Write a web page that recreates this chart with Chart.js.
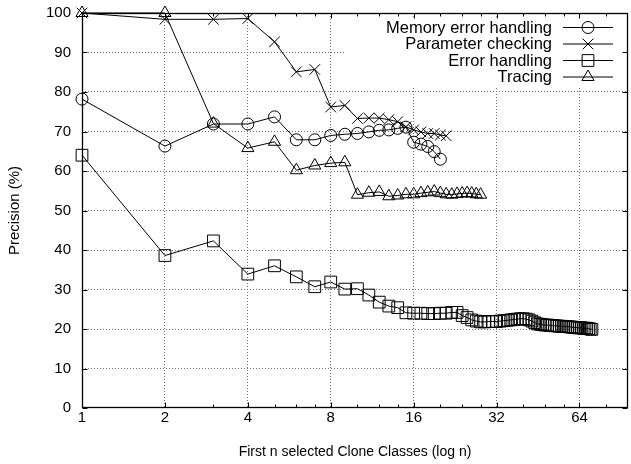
<!DOCTYPE html>
<html>
<head>
<meta charset="utf-8">
<script src="https://cdn.jsdelivr.net/npm/chart.js@4/dist/chart.umd.min.js"></script>
<style>
  html, body { margin: 0; padding: 0; background: #fff; }
</style>
</head>
<body>
<canvas id="myChart" width="631" height="464"></canvas>
<script>
// values, x = n (1, 2, 3 ...)
var memoryError = [78.2, 66.3, 71.9, 71.9, 73.7, 67.9, 67.9, 69, 69.3, 69.5,
  69.9, 70.3, 70.4, 70.8, 71.1, 67.3, 66.8, 66.2, 64.9, 63];
var parameterChecking = [100, 98.4, 98.4, 98.6, 92.7, 85.1, 85.7, 76.2, 76.6, 73.3,
  73.4, 73.4, 73, 72.5, 71.2, 70.4, 69.9, 69.5, 69.5, 69.1, 68.9];
var errorHandling = [64, 38.6, 42.3, 33.9, 36, 33.2, 30.7, 31.9, 30.1, 30.2,
  28.6, 26.8, 25.8, 25.4, 24.1, 24, 24, 23.9, 23.9, 24,
  24, 24.2, 24.2, 23.4, 22.9, 22.3, 22, 21.8, 21.8, 21.9,
  21.9, 21.9, 22, 22.1, 22.2, 22.3, 22.4, 22.5, 22.6, 22.6,
  22.5, 22.3, 22, 21.6, 21.3, 21.2, 21.1, 21, 21, 20.9,
  20.9, 20.8, 20.8, 20.7, 20.7, 20.6, 20.6, 20.6, 20.5, 20.5,
  20.4, 20.4, 20.3, 20.3, 20.3, 20.2, 20.2, 20.2, 20.1, 20,
  19.9];
var tracing = [100, 100, 72, 65.8, 67.4, 60.2, 61.4, 62, 62.2, 54,
  54.5, 54.7, 53.6, 53.8, 54.1, 54.1, 54.4, 54.6, 54.8, 54.4,
  54.1, 54, 54.2, 54.3, 54.4, 54.3, 54.1, 54];

var seriesLabels = ['Memory error handling', 'Parameter checking', 'Error handling', 'Tracing'];
var xTicks = [1, 2, 4, 8, 16, 32, 64];
var xMinorTicks = [3, 5, 6, 7, 10, 12, 14, 20, 24, 28, 40, 48, 56, 80, 96];
var yTicks = [0, 10, 20, 30, 40, 50, 60, 70, 80, 90, 100];

Chart.defaults.font.family = '"Liberation Sans", Arial, sans-serif';
Chart.defaults.color = '#000';

function toPoints(values) {
  return values.map(function (v, i) { return { x: i + 1, y: v }; });
}

var markers = [
  { pointStyle: 'circle', radius: 6 },
  { pointStyle: 'crossRot', radius: 7.5 },
  { pointStyle: 'rect', radius: 8.3 },
  { pointStyle: 'triangle', radius: 7 }
];

var allSeries = [memoryError, parameterChecking, errorHandling, tracing];

var datasets = allSeries.map(function (values, i) {
  return {
    label: seriesLabels[i],
    data: toPoints(values),
    borderColor: '#000',
    borderWidth: 1,
    pointStyle: markers[i].pointStyle,
    pointRadius: markers[i].radius,
    pointHoverRadius: markers[i].radius,
    pointBorderColor: '#000',
    pointBackgroundColor: 'rgba(0,0,0,0)',
    pointBorderWidth: 1,
    tension: 0,
    clip: false
  };
});

// drop the label overhang padding so the plot box sits where the layout says
function noOverhang(scale) {
  scale.paddingTop = 0;
  scale.paddingBottom = 0;
  scale.paddingLeft = 0;
  scale.paddingRight = 0;
}

// white key box behind the legend, drawn over the grid
var keyBoxPlugin = {
  id: 'keyBox',
  beforeDatasetsDraw: function (chart) {
    var ctx = chart.ctx;
    ctx.save();
    ctx.fillStyle = '#fff';
    ctx.fillRect(344, 17, 283, 69);
    ctx.restore();
  }
};

// border box, inward ticks and the legend (gnuplot style)
var framePlugin = {
  id: 'frame',
  afterDraw: function (chart) {
    var ctx = chart.ctx;
    var a = chart.chartArea;
    var xs = chart.scales.x, ys = chart.scales.y;
    var L = Math.round(a.left) + 0.5, R = Math.round(a.right) - 0.5;
    var T = Math.round(a.top) + 0.5, B = Math.round(a.bottom) - 0.5;
    ctx.save();
    ctx.strokeStyle = '#000';
    ctx.lineWidth = 1;
    ctx.beginPath();
    xTicks.concat(xMinorTicks).forEach(function (v) {
      var len = xTicks.indexOf(v) >= 0 ? 5 : 3;
      var px = Math.round(xs.getPixelForValue(v)) + 0.5;
      if (px > R) return;
      ctx.moveTo(px, B); ctx.lineTo(px, B - len);
      ctx.moveTo(px, T); ctx.lineTo(px, T + len);
    });
    yTicks.forEach(function (v) {
      var py = Math.round(ys.getPixelForValue(v)) + 0.5;
      ctx.moveTo(L, py); ctx.lineTo(L + 5, py);
      ctx.moveTo(R, py); ctx.lineTo(R - 5, py);
    });
    ctx.stroke();
    ctx.lineWidth = 1.3;
    ctx.strokeRect(L, T, R - L, B - T);

    // legend
    ctx.font = '16.5px "Liberation Sans", Arial, sans-serif';
    ctx.textAlign = 'right';
    ctx.textBaseline = 'middle';
    ctx.fillStyle = '#000';
    ctx.lineWidth = 1;
    var rows = [27, 43.5, 60, 76.5];
    seriesLabels.forEach(function (label, i) {
      var y = rows[i];
      ctx.fillText(label, 552, y + 1);
      ctx.beginPath();
      ctx.moveTo(563, y + 0.5);
      ctx.lineTo(613, y + 0.5);
      ctx.stroke();
      ctx.fillStyle = 'rgba(0,0,0,0)';
      Chart.helpers.drawPoint(ctx, {
        pointStyle: markers[i].pointStyle,
        radius: markers[i].radius,
        rotation: 0,
        borderWidth: 1
      }, 588, y + 0.5);
      ctx.fillStyle = '#000';
    });
    ctx.restore();
  }
};

var ctx = document.getElementById('myChart').getContext('2d');
var myChart = new Chart(ctx, {
  type: 'line',
  data: { datasets: datasets },
  options: {
    responsive: false,
    animation: false,
    layout: { autoPadding: false, padding: { top: 13, right: 3, left: 0, bottom: 0 } },
    plugins: {
      legend: { display: false },
      tooltip: { enabled: false }
    },
    scales: {
      x: {
        type: 'logarithmic',
        min: 1,
        max: 96,
        afterBuildTicks: function (scale) {
          scale.ticks = xTicks.map(function (v) { return { value: v }; });
        },
        afterFit: function (scale) { scale.height = 56; noOverhang(scale); },
        ticks: {
          autoSkip: false,
          maxRotation: 0,
          padding: 1,
          font: { size: 15 },
          callback: function (v) { return String(v); }
        },
        grid: {
          drawTicks: false,
          color: function (c) {
            return c.tick && c.tick.value === 1 ? 'rgba(0,0,0,0)' : '#707070';
          }
        },
        border: { display: false, dash: [1, 2] },
        title: {
          display: true,
          text: 'First n selected Clone Classes (log n)',
          font: { size: 14 },
          padding: { top: 0, bottom: 3 }
        }
      },
      y: {
        min: 0,
        max: 100,
        afterBuildTicks: function (scale) {
          scale.ticks = yTicks.map(function (v) { return { value: v }; });
        },
        afterFit: function (scale) { scale.width = 82; noOverhang(scale); },
        ticks: { padding: 11, font: { size: 15 } },
        grid: {
          drawTicks: false,
          color: function (c) {
            return c.tick && (c.tick.value === 0 || c.tick.value === 100) ? 'rgba(0,0,0,0)' : '#707070';
          }
        },
        border: { display: false, dash: [1, 2] },
        title: {
          display: true,
          text: 'Precision (%)',
          font: { size: 15 },
          padding: { top: 6, bottom: 0 }
        }
      }
    }
  },
  plugins: [keyBoxPlugin, framePlugin]
});
</script>
</body>
</html>
